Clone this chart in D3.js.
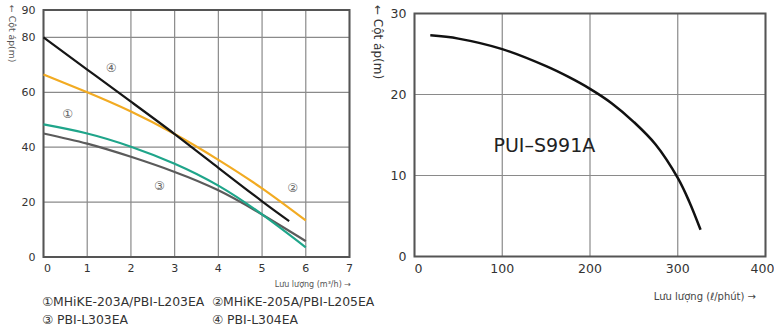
<!DOCTYPE html>
<html>
<head>
<meta charset="utf-8">
<script src="https://cdn.jsdelivr.net/npm/d3@7"></script>
<style>
body { margin:0; background:#fff; }
svg { font-family: "DejaVu Sans", Verdana, sans-serif; }
</style>
</head>
<body>
<script>
// left chart: head (m) vs flow (m3/h)
var flowTicks = [0,1,2,3,4,5,6,7];
var headTicks = [0,20,40,60,80,90];
var flow1 = [0,1,2,3,4,5,6];
var head1 = [48.3,45,40.2,34,26,15.5,3.5];        // (1) teal
var flow2 = [0,1,2,3,4,5,6];
var head2 = [66.5,60,53,44.8,35.4,25,13.3];       // (2) orange
var flow3 = [0,1,2,3,4,5,6];
var head3 = [45,41.3,36.5,31,24.3,15.5,5.8];      // (3) gray
var flow4 = [0,1,2,3,4,5,5.62];
var head4 = [80,68.3,56.6,44.8,32.5,20.3,13.1];   // (4) black
var legendNames = ["MHiKE-203A/PBI-L203EA","MHiKE-205A/PBI-L205EA","PBI-L303EA","PBI-L304EA"];
var marks = ["\u2460","\u2461","\u2462","\u2463"];

// right chart: PUI-S991A, head (m) vs flow (l/min)
var rFlowTicks = [0,100,200,300,400];
var rHeadTicks = [0,10,20,30];
var rFlow = [18,50,100,150,175,200,225,250,275,300,313,326];
var rHead = [27.3,26.9,25.6,23.5,22.2,20.7,18.9,16.6,13.8,9.7,6.8,3.3];

var svg = d3.select("body").append("svg").attr("width",774).attr("height",330);

function panel(x0,x1,y0,y1,xDom,yDom,xTicks,yTicks,fs) {
    var x = d3.scaleLinear().domain(xDom).range([x0,x1]);
    var y = d3.scaleLinear().domain(yDom).range([y1,y0]);
    var g = svg.append("g");
    g.selectAll("line.vg").data(xTicks).enter().append("line")
        .attr("x1",d=>x(d)).attr("x2",d=>x(d)).attr("y1",y0).attr("y2",y1)
        .attr("stroke","#8a8a8a").attr("stroke-width",1.2);
    g.selectAll("line.hg").data(yTicks).enter().append("line")
        .attr("y1",d=>y(d)).attr("y2",d=>y(d)).attr("x1",x0).attr("x2",x1)
        .attr("stroke","#8a8a8a").attr("stroke-width",1.2);
    g.append("rect").attr("x",x0).attr("y",y0).attr("width",x1-x0).attr("height",y1-y0)
        .attr("fill","none").attr("stroke","#555").attr("stroke-width",2);
    var last = xTicks[xTicks.length-1];
    g.selectAll("text.xt").data(xTicks).enter().append("text")
        .attr("x",d=>x(d)+(d==0?4:0)-(d==last&&fs>11?3:0)).attr("y",y1+fs+4)
        .attr("text-anchor","middle").attr("font-size",fs).attr("fill","#333").text(d=>d);
    g.selectAll("text.yt").data(yTicks).enter().append("text")
        .attr("x",x0-8).attr("y",d=>y(d)+fs*0.36)
        .attr("text-anchor","end").attr("font-size",fs).attr("fill","#333").text(d=>d);
    return {x:x,y:y,g:g};
}

var L = panel(43.5,349.5,10,257,[0,7],[0,90],flowTicks,headTicks,11);
var line = d3.line().x(d=>L.x(d[0])).y(d=>L.y(d[1])).curve(d3.curveNatural);
var series = [
    {f:flow2,h:head2,c:"#f2ab22"},
    {f:flow3,h:head3,c:"#5b5b5b"},
    {f:flow1,h:head1,c:"#1fa58a"},
    {f:flow4,h:head4,c:"#161616"}
];
series.forEach(function(s){
    L.g.append("path").attr("d",line(d3.zip(s.f,s.h)))
        .attr("fill","none").attr("stroke",s.c).attr("stroke-width",2.2);
});
// circled labels inside the plot
var tags = [[0.55,52],[5.7,25],[2.65,26],[1.55,69]];
L.g.selectAll("text.tag").data(tags).enter().append("text")
    .attr("x",d=>L.x(d[0])).attr("y",d=>L.y(d[1])+4)
    .attr("text-anchor","middle").attr("font-size",12).attr("fill","#666")
    .text((d,i)=>marks[i]);

svg.append("text").attr("transform","translate(9,5) rotate(90)")
    .attr("font-size",9.3).attr("fill","#555").text("\u2190 C\u1ed9t \u00e1p(m)");
svg.append("text").attr("x",351).attr("y",287).attr("text-anchor","end")
    .attr("font-size",8).attr("fill","#555").text("L\u01b0u l\u01b0\u1ee3ng  (m\u00b3/h)  \u2192");

var legPos = [[42,306],[212,306],[42,324],[212,324]];
svg.selectAll("text.leg").data(legendNames).enter().append("text")
    .attr("x",(d,i)=>legPos[i][0]).attr("y",(d,i)=>legPos[i][1])
    .attr("font-size",12.4).attr("fill","#333")
    .text((d,i)=>marks[i]+(i>1?" ":"")+d);

var R = panel(414.5,765.5,13.5,256.5,[0,400],[0,30],rFlowTicks,rHeadTicks,12.5);
var rline = d3.line().x(d=>R.x(d[0])).y(d=>R.y(d[1])).curve(d3.curveCatmullRom.alpha(0.5));
R.g.append("path").attr("d",rline(d3.zip(rFlow,rHead)))
    .attr("fill","none").attr("stroke","#111").attr("stroke-width",2.5);
R.g.append("text").attr("x",R.x(148)).attr("y",R.y(12.9))
    .attr("text-anchor","middle").attr("font-size",19).attr("fill","#222").text("PUI\u2013S991A");

svg.append("text").attr("transform","translate(374,5) rotate(90)")
    .attr("font-size",12).attr("fill","#333").text("\u2190 C\u1ed9t \u00e1p(m)");
svg.append("text").attr("x",756).attr("y",300).attr("text-anchor","end")
    .attr("font-size",10).attr("fill","#444").text("L\u01b0u l\u01b0\u1ee3ng  (\u2113/ph\u00fat) \u2192");
</script>
</body>
</html>
